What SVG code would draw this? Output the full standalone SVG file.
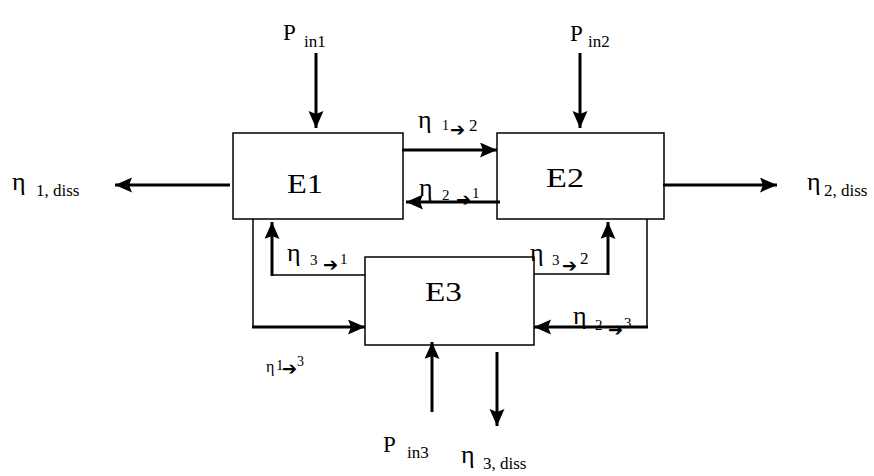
<svg xmlns="http://www.w3.org/2000/svg" width="874" height="476" viewBox="0 0 874 476">
<style>
  .box{fill:#fff;stroke:#000;stroke-width:1.5}
  .t{font-family:"Liberation Serif",serif;fill:#000}
  .node{font-size:27px}
  .P{font-size:23px}
  .eta{font-size:26px}
  .sub{font-size:17px}
  .thick{stroke:#000;stroke-width:3;fill:none}
  .thin{stroke:#000;stroke-width:1.5;fill:none}
  .arr{font-family:"DejaVu Sans",sans-serif;font-weight:bold;font-size:18px;fill:#000}
</style>
<defs>
  <marker id="ah" markerUnits="userSpaceOnUse" markerWidth="18" markerHeight="16" refX="17" refY="7.5" orient="auto">
    <path d="M0,0 L17,7.5 L0,15 L3,7.5 Z" fill="#000"/>
  </marker>
</defs>
<rect width="874" height="476" fill="#fff"/>
<g id="E1"><rect class="box" x="233" y="133" width="170" height="86"/><text class="t node" x="287" y="193" textLength="36" lengthAdjust="spacingAndGlyphs">E1</text></g>
<g id="E2"><rect class="box" x="497" y="133" width="167" height="86"/><text class="t node" x="546" y="187" textLength="38" lengthAdjust="spacingAndGlyphs">E2</text></g>
<g id="E3"><rect class="box" x="365" y="257" width="169" height="88"/><text class="t node" x="425" y="301" textLength="37" lengthAdjust="spacingAndGlyphs">E3</text></g>
<g id="connectors">
  <line class="thick" x1="316" y1="53" x2="316" y2="128" marker-end="url(#ah)"/>
  <line class="thick" x1="580" y1="53" x2="580" y2="128" marker-end="url(#ah)"/>
  <line class="thick" x1="402" y1="150" x2="497" y2="150" marker-end="url(#ah)"/>
  <line class="thick" x1="500" y1="202" x2="406" y2="202" marker-end="url(#ah)"/>
  <line class="thick" x1="230" y1="185" x2="115" y2="185" marker-end="url(#ah)"/>
  <line class="thick" x1="663" y1="185" x2="777" y2="185" marker-end="url(#ah)"/>
  <polyline class="thin" points="253,219 253,327"/>
  <line class="thick" x1="252" y1="327" x2="365" y2="327" marker-end="url(#ah)"/>
  <polyline class="thin" points="365,275 272,275"/>
  <line class="thick" x1="272" y1="276" x2="272" y2="222" marker-end="url(#ah)"/>
  <polyline class="thin" points="534,274 608,274"/>
  <line class="thick" x1="608" y1="275" x2="608" y2="222" marker-end="url(#ah)"/>
  <polyline class="thin" points="647,219 647,327"/>
  <line class="thick" x1="648" y1="327" x2="534" y2="327" marker-end="url(#ah)"/>
  <line class="thick" x1="432" y1="412" x2="432" y2="342" stroke-width="4.5" marker-end="url(#ah)"/>
  <line class="thick" x1="497" y1="352" x2="497" y2="426" marker-end="url(#ah)"/>
</g>
<g id="labels">
  <text class="t"><tspan class="P" x="283" y="40">P</tspan><tspan class="sub" x="304" y="47">in1</tspan></text>
  <text class="t"><tspan class="P" x="570" y="41">P</tspan><tspan class="sub" x="588" y="47">in2</tspan></text>
  <text class="t"><tspan class="P" x="383" y="452">P</tspan><tspan class="sub" x="407" y="458">in3</tspan></text>
  <text class="t"><tspan class="eta" x="12" y="190">η</tspan><tspan class="sub" x="36" y="196">1, diss</tspan></text>
  <text class="t"><tspan class="eta" x="807" y="190">η</tspan><tspan class="sub" x="824" y="196">2, diss</tspan></text>
  <text class="t"><tspan class="eta" x="461" y="463">η</tspan><tspan class="sub" x="483" y="469">3, diss</tspan></text>
  <text class="t"><tspan class="eta" x="418" y="128">η</tspan><tspan style="font-size:14px" x="442" y="130">1</tspan><tspan class="arr" x="450" y="136">➔</tspan><tspan class="sub" x="469" y="131">2</tspan></text>
  <text class="t"><tspan class="eta" x="419" y="196">η</tspan><tspan style="font-size:15px" x="442" y="200">2</tspan><tspan class="arr" x="456" y="206">➔</tspan><tspan style="font-size:15px" x="472" y="198">1</tspan></text>
  <text class="t"><tspan class="eta" x="287" y="261">η</tspan><tspan style="font-size:15px" x="310" y="265">3</tspan><tspan class="arr" x="323" y="271">➔</tspan><tspan style="font-size:15px" x="340" y="264">1</tspan></text>
  <text class="t"><tspan class="eta" x="530" y="261">η</tspan><tspan style="font-size:15px" x="552" y="265">3</tspan><tspan class="arr" x="562" y="272">➔</tspan><tspan class="sub" x="580" y="264">2</tspan></text>
  <text class="t"><tspan class="eta" x="573" y="324">η</tspan><tspan style="font-size:15px" x="595" y="330">2</tspan><tspan class="arr" x="608" y="336">➔</tspan><tspan style="font-size:15px" x="624" y="328">3</tspan></text>
  <text class="t"><tspan style="font-size:16px" x="266" y="372">η</tspan><tspan style="font-size:15px" x="276" y="370">1</tspan><tspan class="arr" x="282" y="375">➔</tspan><tspan style="font-size:14px" x="297" y="366">3</tspan></text>
</g>
</svg>
